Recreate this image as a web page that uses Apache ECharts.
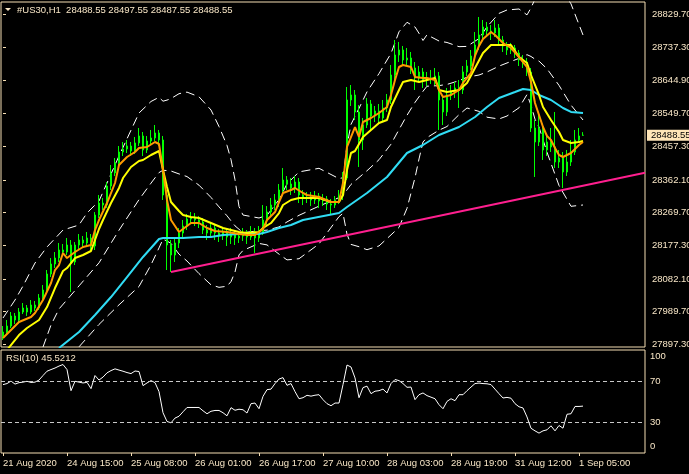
<!DOCTYPE html>
<html><head><meta charset="utf-8">
<script src="https://cdn.jsdelivr.net/npm/echarts@6/dist/echarts.min.js"></script>
<style>html,body{margin:0;padding:0;background:#000;}#c{width:689px;height:474px;}</style>
</head><body><div id="c"></div>
<script>
const symbolTitle = '#US30,H1  28488.55 28497.55 28487.55 28488.55';
const rsiTitle = 'RSI(10) 45.5212';
const timeTickBars = [0,16,32,48,64,80,96,112,128,144];
const timeTickLabels = ['21 Aug 2020','24 Aug 15:00','25 Aug 08:00','26 Aug 01:00','26 Aug 17:00','27 Aug 10:00','28 Aug 03:00','28 Aug 19:00','31 Aug 12:00','1 Sep 05:00'];
const priceTicks = [27897.3,27989.7,28082.1,28177.3,28269.7,28362.1,28457.3,28549.7,28644.9,28737.3,28829.7];
const rsiTickLabels = ['0','30','70','100'];
const rsiTickPos = [6.3,30,70,93.5];
const rsiLevels = [30,70];
const lastPrice = 28488.55;

const candleOpen = [27920.8,27932.1,27949.1,27977.4,27966.0,27988.7,28000.0,27988.7,28008.5,28000.0,
28028.3,28050.9,28096.2,28124.4,28141.4,28164.1,28158.4,28178.2,28130.1,28178.2,
28192.3,28183.9,28198.0,28175.4,28263.0,28297.0,28291.3,28345.1,28381.9,28410.2,
28441.3,28449.8,28458.3,28444.1,28466.8,28486.6,28447.0,28472.4,28480.9,28495.1,
28475.3,28319.7,28178.2,28149.9,28183.9,28212.1,28231.9,28251.7,28254.6,28248.9,
28243.2,28220.6,28212.1,28226.3,28212.1,28203.7,28215.0,28200.8,28209.3,28198.0,
28203.7,28209.3,28200.8,28215.0,28198.0,28215.0,28248.9,28271.5,28291.3,28305.5,
28333.8,28362.1,28350.8,28339.5,28356.4,28319.7,28311.2,28314.0,28305.5,28316.8,
28302.7,28308.3,28294.2,28291.3,28305.5,28316.8,28367.7,28588.4,28602.6,28554.5,
28475.3,28517.7,28577.1,28543.1,28557.3,28537.5,28565.8,28588.4,28659.1,28715.7,
28729.9,28701.6,28707.2,28678.9,28650.6,28667.6,28645.0,28647.8,28650.6,28656.3,
28588.4,28554.5,28602.6,28611.0,28622.4,28616.7,28667.6,28684.6,28712.9,28744.0,
28772.3,28794.9,28783.6,28777.9,28792.1,28758.1,28741.2,28729.9,28735.5,28721.4,
28701.6,28695.9,28667.6,28509.2,28469.6,28509.2,28447.0,28469.6,28455.5,28413.0,
28424.3,28384.7,28413.0,28441.3,28475.3,28488.55];
const candleClose = [27932.1,27949.1,27977.4,27966.0,27988.7,28000.0,27988.7,28008.5,28000.0,28028.3,
28050.9,28096.2,28124.4,28141.4,28164.1,28158.4,28178.2,28130.1,28178.2,28192.3,
28183.9,28198.0,28175.4,28263.0,28297.0,28291.3,28345.1,28381.9,28410.2,28441.3,
28449.8,28458.3,28444.1,28466.8,28486.6,28447.0,28472.4,28480.9,28495.1,28475.3,
28319.7,28178.2,28149.9,28183.9,28212.1,28231.9,28251.7,28254.6,28248.9,28243.2,
28220.6,28212.1,28226.3,28212.1,28203.7,28215.0,28200.8,28209.3,28198.0,28203.7,
28209.3,28200.8,28215.0,28198.0,28215.0,28248.9,28271.5,28291.3,28305.5,28333.8,
28362.1,28350.8,28339.5,28356.4,28319.7,28311.2,28314.0,28305.5,28316.8,28302.7,
28308.3,28294.2,28291.3,28305.5,28316.8,28367.7,28588.4,28602.6,28554.5,28475.3,
28517.7,28577.1,28543.1,28557.3,28537.5,28565.8,28588.4,28659.1,28715.7,28729.9,
28701.6,28707.2,28678.9,28650.6,28667.6,28645.0,28647.8,28650.6,28656.3,28588.4,
28554.5,28602.6,28611.0,28622.4,28616.7,28667.6,28684.6,28712.9,28744.0,28772.3,
28794.9,28783.6,28777.9,28792.1,28758.1,28741.2,28729.9,28735.5,28721.4,28701.6,
28695.9,28667.6,28509.2,28469.6,28509.2,28447.0,28469.6,28455.5,28413.0,28424.3,
28384.7,28413.0,28441.3,28475.3,28486.6,28488.55];
const candleLow = [27909.5,27926.4,27943.4,27954.7,27960.4,27983.0,27977.4,27983.0,27991.5,27994.4,
28022.6,28042.4,28087.7,28113.1,28130.1,28147.1,28149.9,28045.2,28121.6,28166.9,
28172.6,28175.4,28158.4,28164.1,28254.6,28277.2,28282.9,28333.8,28373.4,28401.7,
28430.0,28438.5,28430.0,28435.6,28458.3,28430.0,28438.5,28461.1,28472.4,28458.3,
28305.5,28107.5,28101.8,28130.1,28169.7,28198.0,28220.6,28237.6,28231.9,28226.3,
28209.3,28192.3,28198.0,28192.3,28186.7,28192.3,28175.4,28181.0,28178.2,28183.9,
28189.5,28181.0,28192.3,28155.6,28186.7,28206.5,28231.9,28260.2,28277.2,28285.7,
28325.3,28333.8,28319.7,28325.3,28297.0,28291.3,28297.0,28288.5,28294.2,28282.9,
28288.5,28277.2,28263.0,28282.9,28294.2,28305.5,28362.1,28571.4,28531.8,28398.9,
28447.0,28509.2,28503.6,28526.2,28520.5,28526.2,28554.5,28577.1,28645.0,28695.9,
28684.6,28687.4,28661.9,28616.7,28639.3,28622.4,28628.0,28633.7,28630.8,28503.6,
28517.7,28543.1,28588.4,28594.1,28565.8,28605.4,28656.3,28673.3,28701.6,28729.9,
28758.1,28766.6,28758.1,28766.6,28741.2,28724.2,28715.7,28718.5,28707.2,28684.6,
28678.9,28656.3,28497.9,28370.6,28458.3,28418.7,28430.0,28441.3,28396.0,28396.0,
28339.5,28373.4,28401.7,28432.8,28469.6,28487.55];
const candleHigh = [27949.1,27966.0,27988.7,27985.9,28000.0,28014.1,28008.5,28022.6,28019.8,28039.5,
28065.0,28107.5,28141.4,28158.4,28183.9,28181.0,28198.0,28192.3,28186.7,28209.3,
28203.7,28215.0,28209.3,28271.5,28319.7,28311.2,28356.4,28404.5,28424.3,28458.3,
28469.6,28475.3,28469.6,28483.8,28509.2,28497.9,28486.6,28503.6,28517.7,28503.6,
28486.6,28333.8,28192.3,28198.0,28226.3,28248.9,28265.9,28271.5,28268.7,28260.2,
28254.6,28234.8,28243.2,28237.6,28223.4,28229.1,28223.4,28226.3,28220.6,28215.0,
28226.3,28220.6,28231.9,28226.3,28231.9,28291.3,28288.5,28311.2,28322.5,28350.8,
28396.0,28373.4,28367.7,28373.4,28367.7,28333.8,28328.2,28328.2,28331.0,28325.3,
28322.5,28316.8,28308.3,28316.8,28333.8,28384.7,28625.2,28630.8,28616.7,28574.2,
28537.5,28594.1,28588.4,28571.4,28577.1,28588.4,28605.4,28687.4,28758.1,28752.5,
28741.2,28735.5,28724.2,28695.9,28684.6,28678.9,28667.6,28673.3,28678.9,28667.6,
28602.6,28622.4,28630.8,28639.3,28645.0,28684.6,28701.6,28729.9,28780.8,28823.2,
28814.7,28809.1,28800.6,28814.7,28803.4,28769.5,28752.5,28749.7,28744.0,28729.9,
28715.7,28707.2,28678.9,28531.8,28554.5,28517.7,28486.6,28509.2,28554.5,28447.0,
28441.3,28447.0,28475.3,28503.6,28509.2,28497.55];

const maFast = [[0,27915.1],[2,27937.8],[4,27960.4],[7,27974.5],[8,27985.9],[10,28022.6],[12,28070.7],[13,28107.5],[14,28121.6],[15,28155.6],[16,28141.4],[18,28158.4],[20,28172.6],[22,28178.2],[23,28220.6],[24,28248.9],[26,28297.0],[28,28353.6],[29,28404.5],[31,28427.2],[33,28441.3],[34,28452.6],[36,28455.5],[38,28469.6],[39,28463.9],[40,28390.4],[41,28305.5],[42,28248.9],[44,28215.0],[45,28223.4],[47,28240.4],[49,28240.4],[51,28226.3],[53,28217.8],[56,28215.0],[59,28209.3],[61,28206.5],[63,28206.5],[65,28223.4],[66,28248.9],[68,28271.5],[69,28299.8],[70,28325.3],[72,28333.8],[73,28339.5],[75,28325.3],[76,28319.7],[79,28314.0],[82,28299.8],[84,28299.8],[85,28353.6],[86,28455.5],[88,28512.0],[89,28483.8],[90,28526.2],[92,28537.5],[94,28551.6],[96,28568.6],[97,28602.6],[98,28645.0],[99,28681.7],[100,28687.4],[102,28681.7],[103,28653.5],[105,28650.6],[106,28650.6],[108,28645.0],[109,28616.7],[110,28596.9],[112,28602.6],[114,28616.7],[115,28636.5],[117,28664.8],[118,28712.9],[119,28741.2],[120,28761.0],[122,28780.8],[123,28772.3],[125,28749.7],[127,28735.5],[129,28710.0],[131,28681.7],[132,28639.3],[133,28579.9],[135,28512.0],[136,28486.6],[137,28475.3],[138,28452.6],[139,28432.8],[140,28427.2],[141,28432.8],[142,28438.5],[144,28461.1],[145,28469.6]];
const maMid = [[1,27881.1],[4,27923.6],[6,27943.4],[9,27966.0],[11,28002.8],[13,28056.5],[15,28104.6],[16,28113.1],[18,28141.4],[20,28149.9],[22,28161.2],[24,28223.4],[25,28248.9],[27,28297.0],[29,28339.5],[30,28367.7],[32,28398.9],[34,28415.8],[35,28418.7],[37,28432.8],[39,28444.1],[40,28390.4],[41,28342.3],[42,28299.8],[44,28274.4],[45,28263.0],[47,28257.4],[49,28254.6],[52,28240.4],[55,28226.3],[59,28215.0],[61,28212.1],[64,28215.0],[65,28226.3],[67,28240.4],[69,28268.7],[70,28291.3],[72,28305.5],[74,28311.2],[76,28311.2],[79,28311.2],[82,28299.8],[84,28299.8],[85,28319.7],[86,28390.4],[87,28438.5],[88,28444.1],[90,28483.8],[92,28503.6],[94,28523.3],[96,28531.8],[97,28568.6],[99,28616.7],[100,28639.3],[102,28645.0],[104,28639.3],[106,28645.0],[108,28650.6],[109,28616.7],[111,28611.0],[114,28616.7],[116,28636.5],[118,28678.9],[120,28721.4],[122,28744.0],[124,28744.0],[127,28744.0],[129,28710.0],[131,28693.1],[132,28659.1],[134,28602.6],[135,28568.6],[137,28531.8],[139,28497.9],[140,28475.3],[142,28466.8],[144,28469.6],[145,28472.4]];
const maSlow = [[14,27886.8],[19,27932.1],[23,27980.2],[27,28031.1],[31,28087.7],[35,28144.3],[39,28195.2],[40,28198.0],[45,28198.0],[49,28200.8],[52,28200.8],[55,28206.5],[59,28209.3],[64,28209.3],[66,28215.0],[69,28226.3],[72,28234.8],[75,28248.9],[84,28268.7],[86,28285.7],[91,28325.3],[96,28370.6],[101,28438.5],[105,28461.1],[109,28489.4],[114,28512.0],[118,28540.3],[121,28568.6],[124,28594.1],[128,28611.0],[130,28619.5],[132,28616.7],[134,28602.6],[137,28588.4],[140,28565.8],[142,28554.5],[145,28551.6]];

const bandUpper = [[0,27971.7],[3,28022.6],[5,28062.2],[8,28127.3],[11,28172.6],[15,28220.6],[19,28234.8],[21,28268.7],[24,28302.7],[29,28430.0],[34,28551.6],[37,28584.2],[39,28596.0],[40,28585.0],[41,28588.1],[42,28592.4],[44,28606.2],[46,28610.7],[49,28597.5],[52,28560.1],[54,28513.4],[56,28459.9],[57,28419.8],[58,28362.9],[59,28287.1],[60,28263.0],[64,28254.6],[66,28262.2],[69,28306.4],[71,28351.0],[74,28385.0],[79,28395.2],[84,28366.0],[85,28368.6],[86,28459.4],[87,28519.4],[89,28564.9],[91,28611.6],[94,28663.1],[97,28720.2],[99,28781.3],[101,28808.2],[103,28794.9],[104,28777.1],[105,28756.7],[106,28772.9],[109,28755.3],[111,28751.1],[114,28739.2],[116,28740.0],[119,28762.1],[121,28795.5],[124,28833.4],[126,28843.0],[129,28845.8],[131,28829.1],[132,28848.9],[133,28873.6],[134,28885.2],[136,28912.6],[139,28913.5],[142,28860.3],[145,28772.3]];
const bandMiddle = [[10,27889.6],[12,27951.9],[14,27997.2],[19,28062.5],[24,28127.8],[29,28220.1],[34,28306.5],[37,28353.2],[39,28383.0],[40,28389.8],[42,28387.5],[44,28379.3],[46,28371.8],[49,28347.4],[52,28312.8],[54,28286.0],[56,28260.8],[58,28232.4],[60,28213.1],[64,28218.5],[66,28220.3],[69,28229.4],[71,28243.5],[74,28262.2],[79,28288.2],[84,28312.3],[85,28318.2],[86,28334.1],[87,28349.6],[89,28369.1],[91,28388.3],[94,28419.4],[97,28463.5],[99,28504.7],[101,28545.1],[103,28581.7],[105,28613.1],[106,28627.4],[109,28629.1],[111,28632.4],[114,28643.0],[116,28652.9],[119,28659.1],[121,28667.6],[124,28684.2],[126,28693.1],[129,28706.1],[131,28716.6],[132,28711.5],[133,28703.8],[134,28698.4],[136,28676.7],[139,28629.8],[142,28574.0],[145,28531.8]];
const bandLower = [[19,27890.2],[24,27953.6],[29,28009.0],[34,28060.8],[37,28122.2],[39,28170.0],[40,28194.6],[41,28189.5],[42,28182.7],[44,28152.4],[46,28132.9],[49,28097.3],[52,28065.6],[54,28058.5],[56,28061.6],[57,28074.7],[58,28101.8],[59,28150.2],[60,28162.9],[64,28182.7],[66,28178.5],[69,28152.4],[71,28136.1],[74,28139.4],[79,28181.3],[84,28258.5],[85,28267.9],[86,28208.7],[87,28179.9],[89,28173.4],[91,28164.9],[94,28175.6],[97,28206.8],[99,28228.0],[101,28282.0],[103,28368.6],[104,28421.5],[105,28469.6],[106,28482.0],[109,28503.0],[111,28513.4],[114,28546.8],[116,28565.8],[119,28556.2],[121,28539.7],[124,28534.7],[126,28543.1],[129,28566.3],[131,28603.9],[132,28573.9],[133,28534.1],[134,28511.7],[136,28440.7],[139,28346.5],[142,28287.7],[145,28291.4]];

const trendLine = [[42,28101.8],[160.5,28382.7]];

const rsiValues = [66.4,67.4,69.8,66.9,68.3,68.8,69.6,68.5,68.8,70.8,
75.2,79.4,81.0,82.5,84.4,85.9,81.0,60.5,69.6,68.8,
68.0,68.6,62.5,75.2,70.8,73.7,77.8,80.0,81.7,80.5,
79.4,78.1,77.1,79.6,79.1,65.4,68.0,70.3,68.3,59.6,
39.1,30.6,29.3,33.9,35.7,40.0,44.2,44.2,44.2,44.2,
41.0,38.1,40.5,41.3,41.3,39.1,36.1,44.0,41.5,42.5,
42.0,38.8,47.9,48.5,43.0,55.0,61.5,62.0,67.4,71.8,
73.2,65.7,67.4,59.6,52.7,53.7,56.0,55.2,56.1,56.6,
51.8,47.9,45.9,48.5,48.5,66.4,85.4,83.5,72.9,53.7,
63.5,64.9,57.6,60.0,60.5,62.0,58.3,67.4,71.3,70.3,
67.4,63.8,64.0,51.8,56.6,58.3,55.7,54.2,52.7,46.9,
43.0,50.1,52.7,50.8,56.6,56.6,60.5,64.0,67.4,67.9,
67.4,67.2,66.4,62.0,57.6,53.4,54.0,53.2,47.9,44.9,
43.7,35.0,24.0,21.5,19.3,21.5,22.5,26.4,21.5,26.7,
24.1,37.6,38.1,45.2,45.2,45.5212];

const FONT = '"Liberation Sans", Arial, sans-serif';
const TXT = '#f8e6c6';
const FRAME = '#f5deb3';

const chart = echarts.init(document.getElementById('c'), null, {renderer:'canvas', width:689, height:474, devicePixelRatio:1});
const candles = candleOpen.map((o,i)=>[i,o,candleClose[i],candleLow[i],candleHigh[i]]);
const rsiData = rsiValues.map((v,i)=>[i,v]);
const lbl = {color:TXT, fontSize:9.5, fontFamily:FONT};
const bandStyle = {color:'#ffffff', width:1, type:[9,5]};

chart.setOption({
  backgroundColor:'#000',
  animation:false,
  title:[
    {text:symbolTitle, left:17, top:5, padding:0, textStyle:Object.assign({fontWeight:'normal'}, lbl)},
    {text:rsiTitle, left:6, top:353, padding:0, textStyle:Object.assign({fontWeight:'normal'}, lbl)}
  ],
  graphic:[{type:'polygon', shape:{points:[[5,8],[11,8],[8,11]]}, style:{fill:TXT}}],
  grid:[
    {left:1, top:2, width:644, height:345, show:true, borderColor:FRAME, borderWidth:1, outerBoundsMode:'none', containLabel:false},
    {left:1, top:350, width:644, height:103, show:true, borderColor:FRAME, borderWidth:1, outerBoundsMode:'none', containLabel:false}
  ],
  xAxis:[
    {type:'value', gridIndex:0, min:-0.5, max:160.5, show:false},
    {type:'value', gridIndex:1, min:-0.5, max:160.5,
     axisLine:{show:false}, splitLine:{show:false},
     axisTick:{show:true, customValues:timeTickBars, length:3, lineStyle:{color:FRAME}},
     axisLabel:Object.assign({customValues:timeTickBars, formatter:v=>timeTickLabels[timeTickBars.indexOf(v)], align:'left', margin:5}, lbl)}
  ],
  yAxis:[
    {type:'value', gridIndex:0, position:'right', min:27889.7, max:28865.6,
     splitLine:{show:false}, axisLine:{show:false},
     axisTick:{show:true, customValues:priceTicks, length:3, lineStyle:{color:FRAME}},
     axisLabel:Object.assign({customValues:priceTicks, formatter:v=>v.toFixed(2), margin:7}, lbl)},
    {type:'value', gridIndex:1, position:'right', min:0, max:100, show:false},
    {type:'value', gridIndex:1, position:'right', min:0, max:100,
     splitLine:{show:false}, axisLine:{show:false}, axisTick:{show:false},
     axisLabel:Object.assign({customValues:rsiTickPos, formatter:v=>rsiTickLabels[rsiTickPos.indexOf(v)], margin:5}, lbl)},
    {type:'value', gridIndex:0, position:'right', min:27889.7, max:28865.6,
     splitLine:{show:false}, axisLine:{show:false}, axisTick:{show:false},
     axisLabel:{customValues:[lastPrice], formatter:v=>v.toFixed(2), margin:2, color:'#000', fontSize:9.5, fontFamily:FONT,
       backgroundColor:'#ffe6b8', padding:[1,6,0,4]}}
  ],
  series:[
    {type:'candlestick', xAxisIndex:0, yAxisIndex:0, data:candles, encode:{x:0, y:[1,2,3,4]},
     barWidth:2, itemStyle:{color:'#000000', color0:'#ffffff', borderColor:'#00ff00', borderColor0:'#00ff00', borderWidth:1}},
    {type:'line', xAxisIndex:0, yAxisIndex:0, data:bandUpper, symbol:'none', lineStyle:bandStyle, z:2},
    {type:'line', xAxisIndex:0, yAxisIndex:0, data:bandMiddle, symbol:'none', lineStyle:bandStyle, z:2},
    {type:'line', xAxisIndex:0, yAxisIndex:0, data:bandLower, symbol:'none', lineStyle:bandStyle, z:2},
    {type:'line', xAxisIndex:0, yAxisIndex:0, data:trendLine, symbol:'none', lineStyle:{color:'#ff1f8f', width:2}, z:3},
    {type:'line', xAxisIndex:0, yAxisIndex:0, data:maSlow, symbol:'none', lineStyle:{color:'#30dcf4', width:2}, z:4},
    {type:'line', xAxisIndex:0, yAxisIndex:0, data:maMid, symbol:'none', lineStyle:{color:'#ffff00', width:2}, z:5},
    {type:'line', xAxisIndex:0, yAxisIndex:0, data:maFast, symbol:'none', lineStyle:{color:'#ff9a00', width:2}, z:6},
    {type:'line', xAxisIndex:1, yAxisIndex:1, data:rsiData, symbol:'none', lineStyle:{color:'#ffffff', width:1},
     markLine:{silent:true, symbol:'none', label:{show:false}, lineStyle:{color:'#c8c8c8', type:[4,3], width:1},
       data:rsiLevels.map(v=>({yAxis:v}))}}
  ]
});
</script></body></html>
